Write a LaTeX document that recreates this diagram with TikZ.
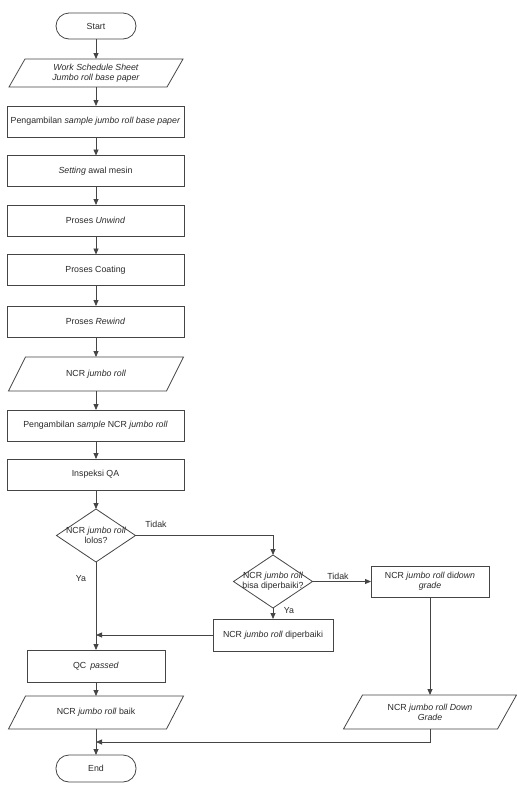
\documentclass[tikz,border=0pt]{standalone}
\usepackage{fontspec}
\setmainfont{Liberation Sans}
\usetikzlibrary{arrows.meta,calc,shapes.geometric}
\definecolor{ln}{HTML}{454545}
\definecolor{tx}{HTML}{2A2A2A}
\newcommand\paral[2]{%
  \draw[line] ($(#1.south west)+(-#2,0)$) -- ($(#1.north west)+(#2,0)$) -- ($(#1.north east)+(#2,0)$) -- ($(#1.south east)+(-#2,0)$) -- cycle;}
\tikzset{
  line/.style={draw=ln,line width=0.8pt},
  base/.style={outer sep=0pt,inner sep=1pt,align=center,text=tx,font=\fontsize{8.8}{10.3}\selectfont},
  proc/.style={base,line,rectangle,minimum height=31pt},
  term/.style={base,line,rectangle,rounded corners=13pt,minimum width=80pt,minimum height=26pt},
  io/.style={base,rectangle,minimum width=158pt,minimum height=28pt},
  dec/.style={line,diamond,outer sep=0pt,inner sep=0pt,minimum width=79pt,minimum height=53pt},
  dtxt/.style={base},
  lbl/.style={base},
  arr/.style={line,-{Triangle[length=6pt,width=5pt]}},
}
\begin{document}
\begin{tikzpicture}[x=1pt,y={(0pt,-1pt)}]
\useasboundingbox (0,0) rectangle (517,793);
\fill[white] (0,0) rectangle (517,793);
% main column
\node[term] (start) at (96,26) {Start};
\node[io] (p1) at (96,73) {\textit{Work Schedule Sheet}\\\textit{Jumbo roll base paper}};
\paral{p1}{8}
\node[proc,minimum width=177pt] (b1) at (95.5,121.5) {Pengambilan \textit{sample jumbo roll base paper}};
\node[proc,minimum width=177pt] (b2) at (95.5,171) {\textit{Setting} awal mesin};
\node[proc,minimum width=177pt] (unw) at (95.5,220.5) {Proses \textit{Unwind}};
\node[proc,minimum width=177pt] (coat) at (95.5,270) {Proses Coating};
\node[proc,minimum width=177pt] (rew) at (95.5,321.5) {Proses \textit{Rewind}};
\node[io,minimum height=34pt] (ncr) at (96,374) {NCR \textit{jumbo roll}};
\paral{ncr}{8.5}
\node[proc,minimum width=177pt] (samp) at (95.5,425.5) {Pengambilan \textit{sample} NCR \textit{jumbo roll}};
\node[proc,minimum width=177pt] (qa) at (95.5,474.5) {Inspeksi QA};
\node[dec] (d1) at (96,535.5) {};
\node[dtxt] (d1t) at (96,535.5) {NCR \textit{jumbo roll}\\lolos?};
\node[proc,minimum width=138pt,minimum height=32pt] (qc) at (96,666) {QC\, \textit{passed}};
\node[io,minimum height=33pt] (baik) at (96,712.5) {NCR \textit{jumbo roll} baik};
\paral{baik}{8.5}
\node[term,minimum height=27pt] (end) at (96,768.5) {End};
% right branch
\node[dec] (d2) at (273,581.5) {};
\node[dtxt] (d2t) at (273,581.5) {NCR \textit{jumbo roll}\\bisa diperbaiki?};
\node[proc,minimum width=118pt] (dg) at (430,581.5) {NCR \textit{jumbo roll} di\textit{down}\\\textit{grade}};
\node[proc,minimum width=120pt,minimum height=32pt] (dip) at (273,635) {NCR \textit{jumbo roll} diperbaiki};
\node[io,minimum width=154pt,minimum height=34pt] (dgp) at (430,712) {NCR \textit{jumbo roll Down}\\\textit{Grade}};
\paral{dgp}{9.5}
\coordinate (m1) at (96,635);
\coordinate (m2) at (96,742);
% connectors
\draw[arr] (start) -- (p1);
\draw[arr] (p1) -- (b1.north -| p1);
\draw[arr] (b1.south -| p1) -- (b2.north -| p1);
\draw[arr] (b2.south -| p1) -- (unw.north -| p1);
\draw[arr] (unw.south -| p1) -- (coat.north -| p1);
\draw[arr] (coat.south -| p1) -- (rew.north -| p1);
\draw[arr] (rew.south -| p1) -- (ncr.north);
\draw[arr] (ncr.south) -- (samp.north -| p1);
\draw[arr] (samp.south -| p1) -- (qa.north -| p1);
\draw[arr] (qa.south -| p1) -- (d1.north);
\draw[arr] (d1.south) -- (qc.north);
\draw[arr] (d1.east) -| (d2.north);
\draw[arr] (d2.east) -- (dg.west);
\draw[arr] (d2.south) -- (dip.north);
\draw[arr] (dip.west) -- (m1);
\draw[arr] (qc.south) -- (baik.north);
\draw[arr] (baik.south) -- (end.north);
\draw[arr] (dg.south) -- (dgp.north);
\draw[arr] (dgp.south) |- (m2);
% labels
\node[lbl] (l1) at (156,524) {Tidak};
\node[lbl] (l2) at (81,579) {Ya};
\node[lbl] (l3) at (338,576) {Tidak};
\node[lbl] (l4) at (289,611) {Ya};
\end{tikzpicture}
\end{document}
